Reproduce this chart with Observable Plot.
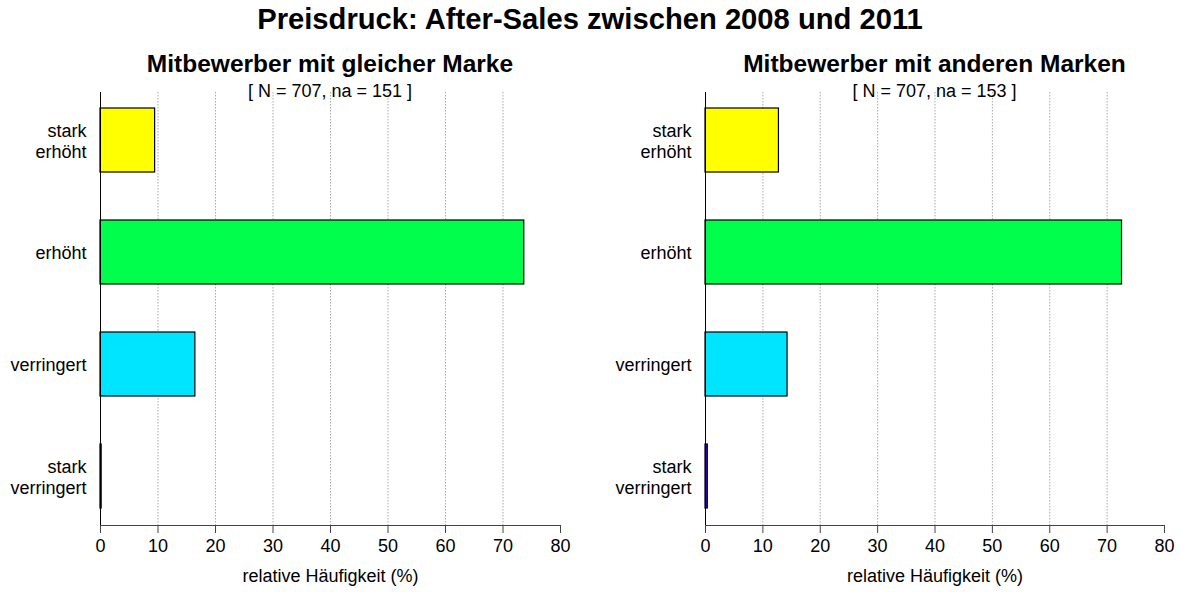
<!DOCTYPE html>
<html>
<head>
<meta charset="utf-8">
<script src="https://cdn.jsdelivr.net/npm/d3@7"></script>
<script src="https://cdn.jsdelivr.net/npm/@observablehq/plot@0.6"></script>
<style>
  html, body { margin: 0; padding: 0; background: #fff; }
  #root { position: relative; width: 1181px; height: 592px; font-family: "Liberation Sans", Arial, sans-serif; color: #000; overflow: hidden; }
  .t { position: absolute; line-height: 1; white-space: nowrap; transform: translateX(-50%); z-index: 2; }
  .main { font-size: 29.2px; font-weight: bold; }
  .ptitle { font-size: 24.5px; font-weight: bold; }
  .psub { font-size: 18px; }
  .panel { position: absolute; top: 0; }
</style>
</head>
<body>
<div id="root"></div>
<script>
// ---- data ----
const categories = ["stark\nerhöht", "erhöht", "verringert", "stark\nverringert"];
const barColors = ["#FFFF00", "#00FF4D", "#00E5FF", "#3300FF"];
const sameBrand = [9.5, 73.7, 16.5, 0.2];
const otherBrands = [12.8, 72.6, 14.3, 0.4];
const xTicks = [0, 10, 20, 30, 40, 50, 60, 70, 80];
const gridTicks = [10, 20, 30, 40, 50, 60, 70];
const mainTitle = "Preisdruck: After-Sales zwischen 2008 und 2011";
const panelTitles = ["Mitbewerber mit gleicher Marke", "Mitbewerber mit anderen Marken"];
const panelSubtitles = ["[ N = 707, na = 151 ]", "[ N = 707, na = 153 ]"];
const xLabel = "relative Häufigkeit (%)";

const root = document.getElementById("root");

function addText(cls, text, x, top) {
  const d = document.createElement("div");
  d.className = "t " + cls;
  d.textContent = text;
  d.style.left = x + "px";
  d.style.top = top + "px";
  root.appendChild(d);
}

function panel(values, left, width, marginLeft, marginRight, title, subtitle) {
  const data = categories.map((c, i) => ({cat: c, value: values[i]}));
  const chart = Plot.plot({
    width, height: 592,
    marginLeft, marginRight, marginTop: 92, marginBottom: 67,
    style: {fontFamily: "'Liberation Sans', Arial, sans-serif", fontSize: "18px", background: "transparent", color: "#000"},
    x: {domain: [0, 80]},
    y: {domain: categories, paddingInner: 0.426, paddingOuter: 0.136},
    color: {domain: categories, range: barColors},
    marks: [
      Plot.gridX(gridTicks, {stroke: "#aaaaaa", strokeOpacity: 1, strokeDasharray: "1.5,1.5", strokeWidth: 1}),
      Plot.barX(data, {x: "value", y: "cat", fill: "cat", stroke: "#000", strokeWidth: 1.2}),
      Plot.frame({anchor: "left", stroke: "#000"}),
      Plot.frame({anchor: "bottom", stroke: "#444"}),
      Plot.axisX({ticks: xTicks, tickSize: 8, tickPadding: 6, fontSize: 18, stroke: "#444",
                  label: xLabel, labelAnchor: "center", labelOffset: 56, labelArrow: "none"}),
      Plot.axisY({tickSize: 0, tickPadding: 14, fontSize: 18, lineHeight: 1.2, label: null})
    ]
  });
  const wrap = document.createElement("div");
  wrap.className = "panel";
  wrap.style.left = left + "px";
  wrap.appendChild(chart);
  root.appendChild(wrap);
  const cx = left + marginLeft + (width - marginLeft - marginRight) / 2;
  addText("ptitle", title, cx, 52.3);
  addText("psub", subtitle, cx, 81.8);
}

addText("main", mainTitle, 590, 5.2);
panel(sameBrand, 0, 590, 100, 30, panelTitles[0], panelSubtitles[0]);
panel(otherBrands, 590, 591, 115, 17, panelTitles[1], panelSubtitles[1]);
</script>
</body>
</html>
